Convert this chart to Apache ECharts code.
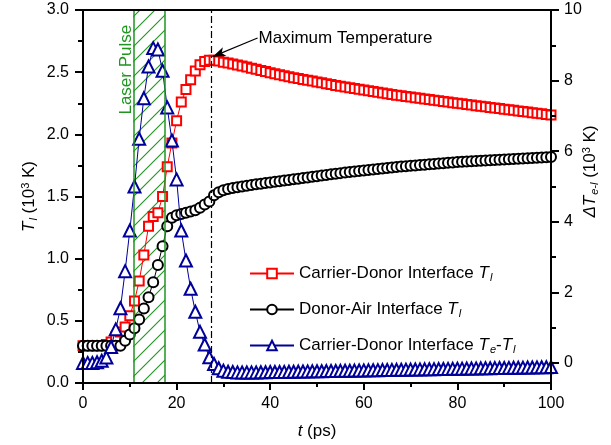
<!DOCTYPE html>
<html><head><meta charset="utf-8">
<script src="https://cdn.jsdelivr.net/npm/echarts@6/dist/echarts.min.js"></script>
<style>html,body{margin:0;padding:0;background:#fff}#c{width:611px;height:445px}</style>
</head><body><div id="c"></div>
<script>
// time (ps)
var timePs = [];
for (var i = 0; i <= 100; i++) timePs.push(i);
// Carrier-Donor Interface T_l (10^3 K), left axis
var carrierDonorTl = [0.30,0.30,0.30,0.30,0.30,0.31,0.33,0.37,0.41,0.45,
0.54,0.66,0.82,1.03,1.26,1.34,1.37,1.50,1.74,1.93,
2.11,2.26,2.36,2.44,2.51,2.56,2.585,2.595,2.595,2.59,
2.58,2.573,2.566,2.558,2.55,2.541,2.532,2.523,2.514,2.505,
2.496,2.488,2.48,2.472,2.464,2.456,2.449,2.442,2.435,2.428,
2.421,2.414,2.407,2.4,2.393,2.386,2.38,2.374,2.368,2.362,
2.356,2.35,2.344,2.338,2.332,2.326,2.32,2.315,2.31,2.305,
2.3,2.295,2.29,2.285,2.28,2.275,2.27,2.265,2.26,2.255,
2.25,2.245,2.24,2.235,2.23,2.226,2.221,2.216,2.212,2.207,
2.202,2.198,2.193,2.188,2.183,2.179,2.174,2.169,2.165,2.16,2.155];
// Donor-Air Interface T_l (10^3 K), left axis
var donorAirTl = [0.30,0.30,0.30,0.30,0.30,0.30,0.30,0.30,0.30,0.34,
0.39,0.44,0.51,0.60,0.69,0.81,0.95,1.10,1.26,1.33,
1.35,1.36,1.37,1.38,1.39,1.41,1.435,1.46,1.51,1.535,
1.55,1.56,1.568,1.575,1.581,1.587,1.593,1.598,1.603,1.608,
1.613,1.618,1.623,1.628,1.633,1.638,1.643,1.648,1.653,1.658,
1.663,1.668,1.673,1.678,1.683,1.688,1.693,1.697,1.701,1.705,
1.709,1.713,1.717,1.721,1.725,1.729,1.733,1.737,1.741,1.744,
1.747,1.75,1.753,1.756,1.759,1.762,1.765,1.768,1.771,1.774,
1.777,1.779,1.781,1.783,1.785,1.787,1.789,1.791,1.793,1.795,
1.797,1.799,1.801,1.803,1.805,1.807,1.809,1.811,1.813,1.815,1.817];
// Carrier-Donor Interface Te-Tl (10^3 K), right axis
var carrierDonorDT = [0.0,0.0,0.0,0.02,0.06,0.15,0.45,0.95,1.55,2.6,
3.75,5.0,6.35,7.5,8.4,8.92,8.88,8.28,7.24,6.3,
5.2,3.75,2.9,2.1,1.45,0.88,0.52,0.16,-0.03,-0.15,
-0.22,-0.25,-0.26,-0.27,-0.27,-0.27,-0.27,-0.27,-0.265,-0.265,
-0.26,-0.26,-0.257,-0.255,-0.252,-0.25,-0.247,-0.245,-0.242,-0.24,
-0.237,-0.235,-0.232,-0.23,-0.228,-0.225,-0.223,-0.221,-0.218,-0.216,
-0.213,-0.211,-0.209,-0.206,-0.204,-0.202,-0.199,-0.197,-0.195,-0.192,
-0.19,-0.188,-0.185,-0.183,-0.181,-0.178,-0.176,-0.174,-0.171,-0.169,
-0.167,-0.164,-0.162,-0.16,-0.157,-0.155,-0.153,-0.15,-0.148,-0.146,
-0.143,-0.141,-0.139,-0.136,-0.134,-0.132,-0.129,-0.127,-0.125,-0.122,-0.12];
var xTicks = [0, 20, 40, 60, 80, 100];
var leftTicks = [0, 0.5, 1.0, 1.5, 2.0, 2.5, 3.0];
var rightTicks = [0, 2, 4, 6, 8, 10];
var rightMinorTicks = [1, 3, 5, 7, 9];
var laserPulse = [10.75, 17.5];
var maxTempTime = 27.3;
var arrowFrom = [37.3, 2.775];
var arrowTo = [27.7, 2.625];
var laserLabelPos = [9.35, 2.52];

var FONT = 'Liberation Sans, Arial, sans-serif';
var GREEN = '#1f951f';
var RED = '#ff0000';
var BLUE = '#00009a';

function pair(vals){ return timePs.map(function(t,i){ return [t, vals[i]]; }); }

// hatch pattern
var pc = document.createElement('canvas');
pc.width = 15; pc.height = 15;
var g = pc.getContext('2d');
g.strokeStyle = GREEN; g.lineWidth = 1.1;
g.beginPath();
g.moveTo(0,15); g.lineTo(15,0);
g.moveTo(-2,2); g.lineTo(2,-2);
g.moveTo(13,17); g.lineTo(17,13);
g.stroke();

var richSet = {
  i: {fontStyle:'italic', fontFamily: FONT, fontSize: 17, color:'#000'},
  sub: {fontStyle:'italic', fontFamily: FONT, fontSize: 11, color:'#000', verticalAlign:'bottom', padding:[8,0,0,1]},
  sup: {fontFamily: FONT, fontSize: 11, color:'#000', verticalAlign:'top', padding:[0,0,8,0]},
  n: {fontFamily: FONT, fontSize: 17, color:'#000'},
  gap: {fontFamily: FONT, fontSize: 17, width: 50}
};

var legendText = {
  cd: '{n|Carrier-Donor Interface }{i|T}{sub|l}',
  da: '{n|Donor-Air Interface }{i|T}{sub|l}',
  dt: '{n|Carrier-Donor Interface }{i|T}{sub|e}{n|-}{i|T}{sub|l}'
};

var chart = echarts.init(document.getElementById('c'), null, {renderer:'canvas'});
var option = {
  animation: false,
  backgroundColor: '#fff',
  textStyle: {fontFamily: FONT},
  grid: {left: 83, right: 60, top: 10, bottom: 62, containLabel: false, outerBoundsMode: 'none'},
  legend: {
    orient: 'vertical', left: 244, top: 260, itemWidth: 44, itemHeight: 12, itemGap: 18,
    data: ['cd','da','dt'],
    formatter: function(n){ return legendText[n]; },
    textStyle: {fontFamily: FONT, fontSize: 17, color:'#000', rich: richSet},
    selectedMode: false
  },
  xAxis: [{
    type: 'value', min: 0, max: 100, interval: 20, position: 'bottom', z: 10,
    axisLine: {onZero: false, lineStyle: {color:'#000', width: 2}},
    axisTick: {length: 7, lineStyle:{width: 2, color:'#000'}},
    minorTick: {show: true, splitNumber: 2, length: 4, lineStyle:{width: 2, color:'#000'}},
    axisLabel: {fontSize: 16, color:'#000', fontFamily: FONT, margin: 13},
    splitLine: {show: false},
    name: '{i|t}{n| (ps)}', nameLocation: 'middle', nameGap: 40,
    nameTextStyle: {rich: richSet}
  }, {
    type: 'value', min: 0, max: 100, position: 'top', z: 10,
    axisLine: {onZero: false, lineStyle: {color:'#000', width: 2}},
    axisTick: {show: false}, axisLabel: {show: false}, splitLine: {show: false}
  }],
  yAxis: [{
    type: 'value', min: 0, max: 3, interval: 0.5, position: 'left', z: 10,
    axisLine: {show: true, onZero: false, lineStyle: {color:'#000', width: 2}},
    axisTick: {show: true, length: 8, lineStyle:{width: 2, color:'#000'}},
    minorTick: {show: true, splitNumber: 2, length: 5, lineStyle:{width: 2, color:'#000'}},
    axisLabel: {fontSize: 16, color:'#000', fontFamily: FONT, margin: 14,
      formatter: function(v){ return v.toFixed(1); }},
    splitLine: {show: false},
    name: '{i|T}{sub|l}{n| (10}{sup|3}{n| K)}', nameLocation: 'middle', nameGap: 44,
    nameMoveOverlap: false,
    nameTextStyle: {rich: richSet}
  }, {
    type: 'value', min: -0.57, max: 10, position: 'right', z: 10,
    axisLine: {show: true, onZero: false, lineStyle: {color:'#000', width: 2}},
    axisTick: {show: true, length: 8, customValues: rightTicks, lineStyle:{width: 2, color:'#000'}},
    axisLabel: {fontSize: 16, color:'#000', fontFamily: FONT, margin: 13, customValues: rightTicks},
    splitLine: {show: false},
    name: '{gap| }{i|ΔT}{sub|e-l}{n| (10}{sup|3}{n| K)}', nameLocation: 'middle', nameGap: 30,
    nameMoveOverlap: false,
    nameTextStyle: {rich: richSet}
  }, {
    type: 'value', min: -0.57, max: 10, position: 'right', z: 10,
    axisLine: {show: false, onZero: false},
    axisTick: {show: true, length: 5, customValues: rightMinorTicks, lineStyle:{width: 2, color:'#000'}},
    axisLabel: {show: false}, splitLine: {show: false}
  }],
  series: [{
    name: 'cd', type: 'line', xAxisIndex: 0, yAxisIndex: 0, z: 2,
    data: pair(carrierDonorTl),
    symbol: 'emptyRect', symbolSize: 9,
    lineStyle: {color: RED, width: 1},
    itemStyle: {color: RED, borderWidth: 1.8},
    markArea: {
      silent: true,
      itemStyle: {color: {image: pc, repeat: 'repeat'}, borderWidth: 0},
      data: [[{xAxis: laserPulse[0]}, {xAxis: laserPulse[1]}]]
    },
    markLine: {
      silent: true, symbol: ['none','none'], label: {show: false},
      data: [
        {xAxis: laserPulse[0], lineStyle: {color: GREEN, width: 1.5, type: 'solid'}},
        {xAxis: laserPulse[1], lineStyle: {color: GREEN, width: 1.5, type: 'solid'}},
        {xAxis: maxTempTime, lineStyle: {color: '#000', width: 1.2, type: [7,3,2,3]}},
        [{coord: arrowFrom, symbol: 'none', lineStyle:{color:'#000', width: 1.2, type:'solid'}},
         {coord: arrowTo, symbol: 'arrow', symbolSize: [7, 13]}]
      ]
    }
  }, {
    name: 'da', type: 'line', xAxisIndex: 0, yAxisIndex: 0, z: 3,
    data: pair(donorAirTl),
    symbol: 'emptyCircle', symbolSize: 10,
    lineStyle: {color: '#000', width: 1},
    itemStyle: {color: '#000', borderWidth: 1.8}
  }, {
    name: 'dt', type: 'line', xAxisIndex: 0, yAxisIndex: 1, z: 4,
    data: pair(carrierDonorDT),
    symbol: 'emptyTriangle', symbolSize: 12,
    lineStyle: {color: BLUE, width: 1},
    itemStyle: {color: BLUE, borderWidth: 1.8}
  }]
};
chart.setOption(option);

var lp = chart.convertToPixel({xAxisIndex:0, yAxisIndex:0}, laserLabelPos);
var mp = chart.convertToPixel({xAxisIndex:0, yAxisIndex:0}, arrowFrom);
chart.setOption({
  graphic: [{
    type: 'text', x: lp[0], y: lp[1], rotation: Math.PI/2, z: 20,
    style: {text: 'Laser Pulse', fill: GREEN, font: '17px ' + FONT, align: 'center', verticalAlign: 'middle'}
  }, {
    type: 'text', x: mp[0] + 1, y: mp[1], z: 20,
    style: {text: 'Maximum Temperature', fill: '#000', font: '17px ' + FONT, align: 'left', verticalAlign: 'middle'}
  }]
});
</script></body></html>
